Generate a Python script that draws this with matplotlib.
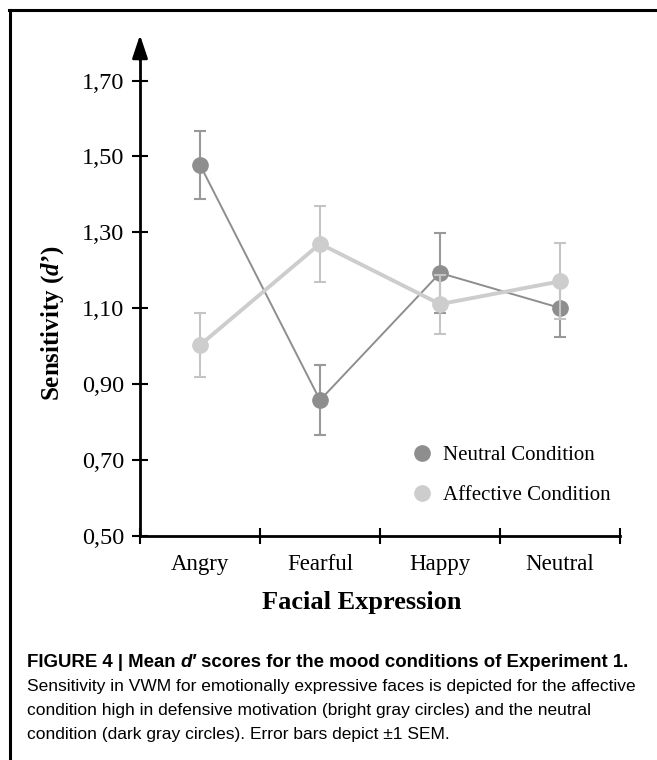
import matplotlib
matplotlib.use("Agg")
import matplotlib.pyplot as plt
from matplotlib.lines import Line2D

# values
categories = ["Angry", "Fearful", "Happy", "Neutral"]
neutral = [1.478, 0.858, 1.193, 1.101]
neutral_sem = [0.090, 0.092, 0.105, 0.077]
affective = [1.003, 1.270, 1.111, 1.171]
affective_sem = [0.085, 0.100, 0.078, 0.100]
yticks = [0.50, 0.70, 0.90, 1.10, 1.30, 1.50, 1.70]
ytick_labels = ["0,50", "0,70", "0,90", "1,10", "1,30", "1,50", "1,70"]

caption_lines = [
    "Sensitivity in VWM for emotionally expressive faces is depicted for the affective",
    "condition high in defensive motivation (bright gray circles) and the neutral",
    "condition (dark gray circles). Error bars depict \u00b11 SEM.",
]

plt.rcParams["mathtext.fontset"] = "custom"
plt.rcParams["mathtext.it"] = "Liberation Serif:italic:bold"
plt.rcParams["mathtext.rm"] = "Liberation Serif:bold"

serif = "Liberation Serif"
sans = "Liberation Sans"
dark = "#8e8e8e"
light = "#cdcdcd"

fig = plt.figure(figsize=(6.57, 7.6), dpi=100)
ax = fig.add_axes([0.2131, 0.2947, 0.7306, 0.6592])

x = [i + 0.5 for i in range(len(categories))]

ax.errorbar(x, neutral, yerr=neutral_sem, color=dark, ecolor="#999999",
            elinewidth=1.5, capsize=4.5, capthick=1.5, lw=1.4,
            marker="o", ms=11, mec=dark, mfc=dark, zorder=3,
            label="Neutral Condition")
ax.errorbar(x, affective, yerr=affective_sem, color=light, ecolor="#c4c4c4",
            elinewidth=1.5, capsize=4.5, capthick=1.5, lw=2.8,
            marker="o", ms=11, mec=light, mfc=light, zorder=4,
            label="Affective Condition")

ax.set_xlim(0, 4)
ax.set_ylim(0.5, 1.82)
ax.set_xticks([0, 1, 2, 3, 4])
ax.set_xticklabels([])
ax.set_xticks(x, minor=True)
ax.set_xticklabels(categories, minor=True, fontfamily=serif, fontsize=16.5)
ax.tick_params(axis="x", which="minor", length=0, pad=13)
ax.tick_params(axis="x", which="major", direction="inout", length=11, width=1.5)
ax.set_yticks(yticks)
ax.set_yticklabels(ytick_labels, fontfamily=serif, fontsize=17.5)
ax.tick_params(axis="y", direction="inout", length=11, width=1.5, pad=6)

for s in ["top", "right"]:
    ax.spines[s].set_visible(False)
ax.spines["left"].set_linewidth(2)
ax.spines["bottom"].set_linewidth(2)
ax.spines["left"].set_bounds(0.5, 1.78)

# arrow head on y axis
ax.annotate("", xy=(0, 1.0), xycoords="axes fraction", xytext=(0, 0.95),
            arrowprops=dict(arrowstyle="-|>,head_length=1.4,head_width=0.47",
                            color="black", lw=2, shrinkA=0, shrinkB=0))

ax.set_xlabel("Facial Expression", fontfamily=serif, fontweight="bold", fontsize=19)
ax.xaxis.set_label_coords(0.4625, -0.11)
ax.set_ylabel("Sensitivity ($d$\u2019)", fontfamily=serif, fontweight="bold", fontsize=18)
ax.yaxis.set_label_coords(-0.155, 0.425)

handles = [Line2D([], [], ls="none", marker="o", ms=11, color=dark),
           Line2D([], [], ls="none", marker="o", ms=11, color=light)]
ax.legend(handles, ["Neutral Condition", "Affective Condition"],
          loc="center left", bbox_to_anchor=(0.566, 0.121), frameon=False,
          prop={"family": serif, "size": 15}, handlelength=1,
          handletextpad=0.5, labelspacing=1.0, borderpad=0, borderaxespad=0)

# frame lines (left and top only)
fig.add_artist(Line2D([0.015, 0.015], [0, 0.987], color="black", lw=2.2,
                      transform=fig.transFigure))
fig.add_artist(Line2D([0.0135, 1.0], [0.987, 0.987], color="black", lw=2.2,
                      transform=fig.transFigure))

# caption
t1 = fig.text(0.041, 1 - 667 / 760, "FIGURE 4 | Mean ", fontfamily=sans,
              fontweight="bold", fontsize=13.4, va="baseline")
t2 = ax.annotate("d\u2032", xy=(1, 0), xycoords=t1, va="bottom",
                 fontfamily=sans, fontweight="bold", fontstyle="italic",
                 fontsize=13.4, annotation_clip=False)
ax.annotate(" scores for the mood conditions of Experiment 1.", xy=(1, 0),
            xycoords=t2, va="bottom", fontfamily=sans, fontweight="bold",
            fontsize=13.4, annotation_clip=False)
for i, line in enumerate(caption_lines):
    fig.text(0.041, 1 - (691 + 24 * i) / 760, line, fontfamily=sans,
             fontsize=12.5, va="baseline")

fig.savefig("out.png", dpi=100)
